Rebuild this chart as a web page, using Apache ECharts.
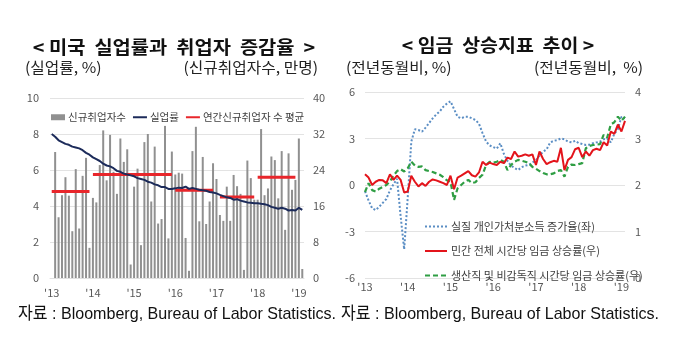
<!DOCTYPE html>
<html><head><meta charset="utf-8">
<script src="https://cdn.jsdelivr.net/npm/echarts@6/dist/echarts.min.js"></script>
<style>html,body{margin:0;padding:0;background:#fff}#c{width:680px;height:362px}</style>
</head><body><div id="c"></div>
<script>
// ---- categories (Jan 2013 .. Feb 2019) ----
const yearLabels = ["'13","'14","'15","'16","'17","'18","'19"];
const startYear = 2013, nMonths = 74;
const months = [];
for (let i = 0; i < nMonths; i++) {
  const y = startYear + Math.floor(i / 12), m = (i % 12) + 1;
  months.push(y + '-' + (m < 10 ? '0' + m : m));
}
// ---- left chart: US unemployment & payrolls ----
const jobs = [null,28.0,13.5,18.4,22.4,18.3,10.4,24.2,11.0,22.7,26.7,6.7,
  17.8,16.8,25.1,32.8,21.7,31.8,23.6,18.7,31.0,25.8,28.6,3.0,
  20.3,24.3,7.3,30.2,32.0,17.0,29.2,12.1,13.1,33.8,8.8,28.1,
  23.0,23.4,23.2,8.9,1.6,28.2,33.6,12.6,26.9,12.0,17.0,25.5,
  22.0,14.0,12.7,20.3,12.7,22.9,20.4,18.7,1.8,26.1,22.2,17.4,
  17.4,33.1,18.4,19.9,27.0,26.2,17.7,28.2,10.7,27.7,19.6,21.8,
  31.0,2.0];
const unemp = [8.0,7.85,7.65,7.55,7.45,7.4,7.3,7.25,7.2,7.1,6.95,6.85,
  6.7,6.6,6.5,6.35,6.25,6.2,6.1,5.95,5.9,5.8,5.75,5.7,
  5.65,5.55,5.5,5.45,5.35,5.3,5.2,5.15,5.05,5.05,4.95,4.95,
  4.98,5.02,5.0,5.08,4.95,5.0,4.95,4.9,4.88,4.85,4.78,4.75,
  4.7,4.62,4.55,4.48,4.45,4.35,4.38,4.3,4.25,4.2,4.18,4.15,
  4.15,4.12,4.1,4.05,3.95,3.9,3.85,3.9,3.85,3.75,3.78,3.75,
  3.9,3.78];
const avgStart = [0, 12, 36, 49, 60];
const avgEnd   = [11, 35, 47, 59, 71];
const avgValue = [19.2, 23.0, 19.5, 18.0, 22.4];
// ---- right chart: wage indicators ----
const realIncome = [-0.4,-1.0,-1.5,-1.62,-1.4,-1.15,-0.9,-0.35,0.05,0.4,-2.0,-4.15,
  -0.8,2.8,3.6,3.55,3.44,3.7,4.0,4.3,4.55,4.75,5.05,5.25,
  5.4,4.9,4.4,4.3,4.4,4.4,4.3,4.2,3.95,3.35,2.8,2.55,
  2.45,2.35,2.69,2.0,1.55,1.25,1.1,0.97,1.15,1.25,1.3,1.45,
  1.6,1.9,2.15,2.3,2.75,2.85,2.9,3.0,2.95,2.8,2.75,2.85,
  2.7,2.65,2.58,2.6,2.7,2.75,2.8,2.95,3.0,2.75,3.3,3.6,
  4.4,4.3];
const wageAll = [2.23,2.16,2.0,2.07,2.11,2.1,2.04,2.23,2.11,2.2,2.11,1.84,
  1.86,2.2,2.07,1.97,2.04,1.98,2.07,2.12,2.1,2.07,2.04,2.0,
  2.2,1.91,2.16,2.2,2.25,2.3,2.21,2.18,2.27,2.5,2.43,2.48,
  2.45,2.43,2.5,2.47,2.59,2.56,2.72,2.61,2.63,2.66,2.63,2.66,
  2.43,2.72,2.56,2.45,2.49,2.52,2.5,2.8,2.32,2.54,2.6,2.77,
  2.8,2.6,2.72,2.63,2.75,2.78,2.75,2.92,2.85,3.15,3.1,3.3,
  3.15,3.38];
const wageProd = [1.85,2.04,1.89,1.86,1.92,1.96,2.0,2.08,2.2,2.3,2.34,2.29,
  2.36,2.5,2.42,2.39,2.4,2.32,2.3,2.28,2.25,2.22,2.17,2.1,
  2.07,1.68,1.93,2.0,2.07,2.11,2.04,2.06,2.15,2.22,2.43,2.5,
  2.48,2.5,2.54,2.5,2.32,2.43,2.5,2.54,2.52,2.5,2.47,2.39,
  2.35,2.3,2.26,2.23,2.23,2.25,2.3,2.32,2.18,2.39,2.44,2.43,
  2.45,2.47,2.79,2.84,2.86,2.87,2.88,3.08,3.02,3.3,3.35,3.47,
  3.38,3.47];

const FONT = '"Noto Sans CJK KR","Noto Sans",sans-serif';
const labelStyle = {color:'#595959', fontSize:11, fontFamily:FONT};
const yearInterval = (idx, val) => val.slice(5) === '01';
const yearFmt = (val) => yearLabels[parseInt(val.slice(0,4)) - startYear];

const avgSeries = avgValue.map((v, k) => ({
  name:'연간신규취업자 수 평균', type:'line', xAxisIndex:0, yAxisIndex:1,
  data: months.map((_, i) => (i >= avgStart[k] && i <= avgEnd[k]) ? v : null),
  symbol:'none', lineStyle:{color:'#e8262b', width:3}, itemStyle:{color:'#e8262b'},
  z:3, silent:true
}));

const hideSym = {opacity:0};
const chart = echarts.init(document.getElementById('c'), null, {renderer:'canvas'});
chart.setOption({
  animation:false,
  grid:[
    {left:50, top:98, width:254, height:180},
    {left:365, top:92, width:260, height:186}
  ],
  xAxis:[
    {type:'category', gridIndex:0, data:months, boundaryGap:true,
     axisTick:{show:false}, axisLine:{show:true, lineStyle:{color:'#e0e0e0'}},
     axisLabel:Object.assign({interval:yearInterval, formatter:yearFmt, margin:9}, labelStyle)},
    {type:'category', gridIndex:1, data:months, boundaryGap:false,
     axisTick:{show:false}, axisLine:{show:false},
     axisLabel:Object.assign({interval:yearInterval, formatter:yearFmt, margin:3}, labelStyle)}
  ],
  yAxis:[
    {type:'value', gridIndex:0, min:0, max:10, interval:2, axisLine:{show:false}, axisTick:{show:false},
     splitLine:{lineStyle:{color:'#e3e3e3'}}, axisLabel:Object.assign({margin:11}, labelStyle)},
    {type:'value', gridIndex:0, min:0, max:40, interval:8, position:'right', axisLine:{show:false}, axisTick:{show:false},
     splitLine:{show:false}, axisLabel:Object.assign({margin:9}, labelStyle)},
    {type:'value', gridIndex:1, min:-6, max:6, interval:3, axisLine:{show:false}, axisTick:{show:false},
     splitLine:{lineStyle:{color:'#e3e3e3'}}, axisLabel:Object.assign({margin:10}, labelStyle)},
    {type:'value', gridIndex:1, min:0, max:4, interval:1, position:'right', axisLine:{show:false}, axisTick:{show:false},
     splitLine:{show:false}, axisLabel:Object.assign({margin:10}, labelStyle)}
  ],
  legend:[
    {data:[{name:'신규취업자수', icon:'rect'},
           {name:'실업률', itemStyle:hideSym},
           {name:'연간신규취업자 수 평균', itemStyle:hideSym}],
     left:46, top:107, itemWidth:14, itemHeight:6, itemGap:6,
     textStyle:{color:'#404040', fontSize:10.5, fontFamily:FONT, padding:[0,0,0,-2]}},
    {data:[{name:'실질 개인가처분소득 증가율(좌)', itemStyle:hideSym},
           {name:'민간 전체 시간당 임금 상승률(우)', itemStyle:hideSym},
           {name:'생산직 및 비감독직 시간당 임금 상승률(우)', itemStyle:hideSym}],
     orient:'vertical', left:419, top:216, itemWidth:22, itemHeight:8, itemGap:13.5,
     textStyle:{color:'#404040', fontSize:11, fontFamily:FONT, padding:[0,0,0,-1]}}
  ],
  series:[
    {name:'신규취업자수', type:'bar', xAxisIndex:0, yAxisIndex:1, data:jobs, barWidth:2,
     itemStyle:{color:'#909090'}, z:1},
    ...avgSeries,
    {name:'실업률', type:'line', xAxisIndex:0, yAxisIndex:0, data:unemp, symbol:'none',
     lineStyle:{color:'#1c2b5a', width:2}, itemStyle:{color:'#1c2b5a'}, z:4},
    {name:'실질 개인가처분소득 증가율(좌)', type:'line', xAxisIndex:1, yAxisIndex:2, data:realIncome, symbol:'none',
     lineStyle:{color:'#5b8ec4', width:2, type:'dotted'}, itemStyle:{color:'#5b8ec4'}, z:2},
    {name:'생산직 및 비감독직 시간당 임금 상승률(우)', type:'line', xAxisIndex:1, yAxisIndex:3, data:wageProd, symbol:'none',
     lineStyle:{color:'#2f9e44', width:2.2, type:[5,3]}, itemStyle:{color:'#2f9e44'}, z:3},
    {name:'민간 전체 시간당 임금 상승률(우)', type:'line', xAxisIndex:1, yAxisIndex:3, data:wageAll, symbol:'none',
     lineStyle:{color:'#e3141b', width:2}, itemStyle:{color:'#e3141b'}, z:4}
  ],
  graphic:[
    {type:'text', x:174, y:47, scaleX:1.1, style:{text:'< 미국  실업률과  취업자  증감율  >', font:'bold 18px '+FONT, fill:'#111', textAlign:'center', textVerticalAlign:'middle'}},
    {type:'text', x:25, y:67, scaleX:1.05, style:{text:'(실업률, %)', font:'15px '+FONT, fill:'#222', textAlign:'left', textVerticalAlign:'middle'}},
    {type:'text', x:318, y:67, scaleX:1.05, style:{text:'(신규취업자수, 만명)', font:'15px '+FONT, fill:'#222', textAlign:'right', textVerticalAlign:'middle'}},
    {type:'text', x:498, y:45, scaleX:1.08, style:{text:'< 임금  상승지표  추이 >', font:'bold 18px '+FONT, fill:'#111', textAlign:'center', textVerticalAlign:'middle'}},
    {type:'text', x:346, y:67, scaleX:1.05, style:{text:'(전년동월비, %)', font:'15px '+FONT, fill:'#222', textAlign:'left', textVerticalAlign:'middle'}},
    {type:'text', x:643, y:67, scaleX:1.05, style:{text:'(전년동월비,  %)', font:'15px '+FONT, fill:'#222', textAlign:'right', textVerticalAlign:'middle'}},
    {type:'text', x:18, y:314, scaleX:0.945, style:{text:'자료 : Bloomberg, Bureau of Labor Statistics.', font:'17px "Liberation Sans",Arial,"Noto Sans CJK KR",sans-serif', fill:'#111', textAlign:'left', textVerticalAlign:'middle'}},
    {type:'text', x:341, y:314, scaleX:0.945, style:{text:'자료 : Bloomberg, Bureau of Labor Statistics.', font:'17px "Liberation Sans",Arial,"Noto Sans CJK KR",sans-serif', fill:'#111', textAlign:'left', textVerticalAlign:'middle'}}
  ]
});
</script></body></html>
